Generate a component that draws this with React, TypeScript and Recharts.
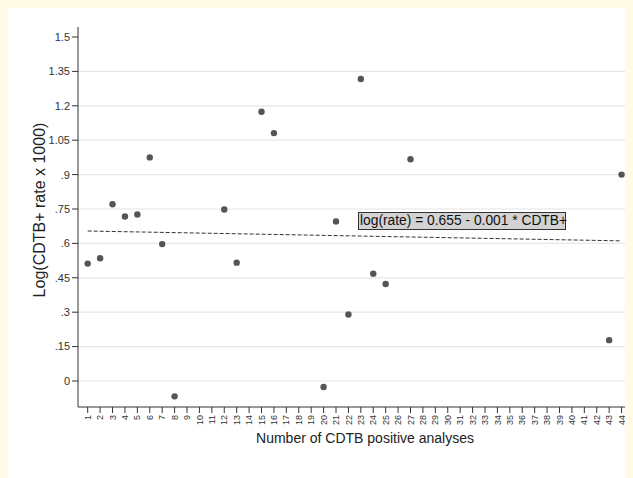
import { ScatterChart, Scatter, XAxis, YAxis, CartesianGrid } from 'recharts';

// CDTB positive analyses (x) and log(CDTB+ rate x 1000) (y)
const caseCounts = [1, 2, 3, 4, 5, 6, 7, 8, 12, 13, 15, 16, 20, 21, 22, 23, 24, 25, 27, 43, 44];
const logRates = [
  0.512, 0.535, 0.771, 0.717, 0.726, 0.975, 0.597, -0.067, 0.748, 0.516, 1.174,
  1.081, -0.026, 0.696, 0.29, 1.317, 0.468, 0.423, 0.967, 0.178, 0.9,
];

// fitted line end points
const fitX = [1, 44];
const fitY = [0.654, 0.611];

const xTicks = [
  1, 2, 3, 4, 5, 6, 7, 8, 9, 10, 11, 12, 13, 14, 15, 16, 17, 18, 19, 20, 21, 22,
  23, 24, 25, 26, 27, 28, 29, 30, 31, 32, 33, 34, 35, 36, 37, 38, 39, 40, 41, 42, 43, 44,
];
const yTicks = [0, 0.15, 0.3, 0.45, 0.6, 0.75, 0.9, 1.05, 1.2, 1.35, 1.5];
const yTickLabels = ['0', '.15', '.3', '.45', '.6', '.75', '.9', '1.05', '1.2', '1.35', '1.5'];
const gridValues = [0, 0.15, 0.3, 0.45, 0.6, 0.75, 0.9, 1.05, 1.2, 1.35];

const points = caseCounts.map((x, i) => ({ x, y: logRates[i] }));
const fitLine = fitX.map((x, i) => ({ x, y: fitY[i] }));

const font = '"Liberation Sans", Arial, sans-serif';

function XTick({ x, y, payload }: any) {
  return (
    <text
      x={x}
      y={y}
      transform={`rotate(-90 ${x} ${y})`}
      textAnchor="end"
      dy="0.35em"
      fontSize={9}
      fill="#333"
      fontFamily={font}
    >
      {payload.value}
    </text>
  );
}

const Dot = ({ cx, cy }: any) => <circle cx={cx} cy={cy} r={3.2} fill="#555" />;
const NoDot = () => <g />;

export default function App() {
  return (
    <>
      <style>{`body { background: #fffbe6; }`}</style>
      <div style={{ position: 'relative', width: 625, height: 470, background: '#fff', fontFamily: font }}>
        <ScatterChart width={625} height={470} margin={{ top: 19, right: 0, bottom: 0, left: 0 }}>
          <CartesianGrid
            horizontal
            vertical={false}
            horizontalValues={gridValues}
            stroke="#e6e6e6"
            strokeWidth={1.2}
          />
          <XAxis
            type="number"
            dataKey="x"
            domain={[0.22, 44.92]}
            ticks={xTicks}
            interval={0}
            allowDataOverflow
            height={71}
            tickSize={6}
            axisLine={{ stroke: '#333' }}
            tickLine={{ stroke: '#333' }}
            tick={<XTick />}
          />
          <YAxis
            type="number"
            dataKey="y"
            domain={[-0.1134, 1.5436]}
            ticks={yTicks}
            interval={0}
            allowDataOverflow
            width={70}
            tickSize={6}
            axisLine={{ stroke: '#333' }}
            tickLine={{ stroke: '#333' }}
            tick={{ fontSize: 11, fill: '#333', fontFamily: font }}
            tickFormatter={(v: number) => yTickLabels[yTicks.indexOf(v)] ?? String(v)}
          />
          <Scatter
            data={fitLine}
            line={{ stroke: '#333', strokeWidth: 1, strokeDasharray: '4 2' }}
            shape={<NoDot />}
            isAnimationActive={false}
          />
          <Scatter data={points} shape={<Dot />} isAnimationActive={false} />
        </ScatterChart>

        <div
          style={{
            position: 'absolute',
            left: 31.5,
            top: 202,
            transform: 'translate(-50%, -50%) rotate(-90deg)',
            whiteSpace: 'nowrap',
            fontSize: 16,
            color: '#222',
          }}
        >
          Log(CDTB+ rate x 1000)
        </div>
        <div
          style={{
            position: 'absolute',
            left: 357,
            top: 430,
            transform: 'translate(-50%, -50%)',
            whiteSpace: 'nowrap',
            fontSize: 14,
            color: '#222',
          }}
        >
          Number of CDTB positive analyses
        </div>
        <div
          style={{
            position: 'absolute',
            left: 350,
            top: 204,
            width: 205,
            height: 16,
            background: '#d3d3d3',
            border: '1px solid #333',
            fontSize: 13.8,
            lineHeight: '16px',
            paddingLeft: 1,
            whiteSpace: 'nowrap',
            color: '#111',
            overflow: 'visible',
          }}
        >
          log(rate) = 0.655 - 0.001 * CDTB+
        </div>
      </div>
    </>
  );
}
